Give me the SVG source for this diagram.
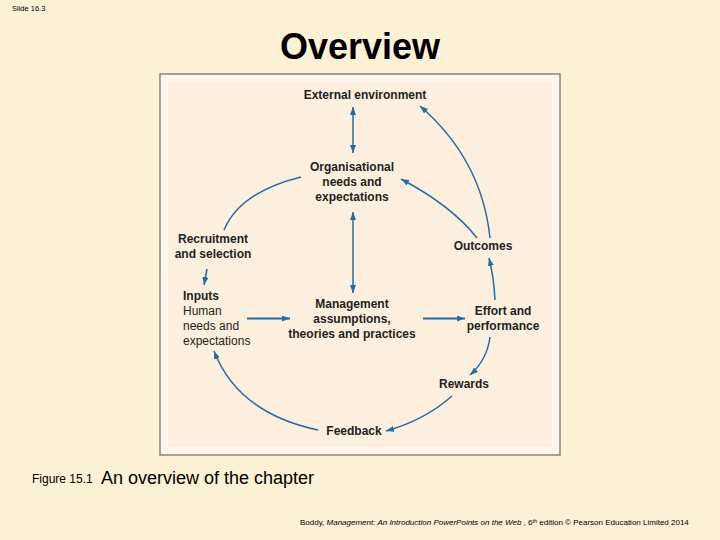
<svg xmlns="http://www.w3.org/2000/svg" width="720" height="540" viewBox="0 0 720 540">
<style>
.lbl{font-family:"Liberation Sans",Arial,sans-serif;font-size:12px;font-weight:bold;fill:#231f20;text-anchor:middle}
.lblL{font-family:"Liberation Sans",Arial,sans-serif;font-size:12px;fill:#231f20}
.con{fill:none;stroke:#1f6fa6;stroke-width:1.5}
.thick{stroke-width:2}
.sm{font-family:"Liberation Sans",Arial,sans-serif;font-size:7.5px;fill:#000}
</style>
<defs>
<marker id="ah" markerUnits="userSpaceOnUse" markerWidth="9" markerHeight="7" refX="8" refY="3" orient="auto-start-reverse">
<path d="M0,0 L8,3 L0,6 z" fill="#1f6fa6"/>
</marker>
</defs>
<rect x="0" y="0" width="720" height="540" fill="#fbf1d5"/>
<text class="sm" x="12" y="11">Slide 16.3</text>
<text x="360" y="59" font-family="Liberation Sans,Arial,sans-serif" font-size="36" font-weight="bold" text-anchor="middle" fill="#000">Overview</text>
<rect x="160" y="74" width="400" height="381" fill="#fef6ea" stroke="#85857d" stroke-width="1.5"/>
<rect x="168" y="82" width="384" height="365" fill="#fcefdd"/>
<g id="connectors">
<path class="con" d="M353 107 L353 153" marker-start="url(#ah)" marker-end="url(#ah)"/>
<path class="con" d="M353 212 L353 293" marker-start="url(#ah)" marker-end="url(#ah)"/>
<path class="con" d="M301 177 Q240 192 224 230"/>
<path class="con" d="M207 269 L204 285" marker-end="url(#ah)"/>
<path class="con thick" d="M247 318.5 L290 318.5" marker-end="url(#ah)"/>
<path class="con thick" d="M423 318.5 L465 318.5" marker-end="url(#ah)"/>
<path class="con" d="M495 300 Q494 278 489 258" marker-end="url(#ah)"/>
<path class="con" d="M477 238 Q452 206 401 179" marker-end="url(#ah)"/>
<path class="con" d="M490 238 C485 190 465 145 420 106" marker-end="url(#ah)"/>
<path class="con" d="M490 337 Q487 360 470 375" marker-end="url(#ah)"/>
<path class="con" d="M452 396 Q425 420 386 431" marker-end="url(#ah)"/>
<path class="con" d="M318 430 Q238 413 214 351" marker-end="url(#ah)"/>
</g>
<g id="external"><text class="lbl" x="365" y="99">External environment</text></g>
<g id="org"><text class="lbl" x="352" y="171">Organisational</text><text class="lbl" x="352" y="186">needs and</text><text class="lbl" x="352" y="201">expectations</text></g>
<g id="recruitment"><text class="lbl" x="213" y="243">Recruitment</text><text class="lbl" x="213" y="258">and selection</text></g>
<g id="inputs"><text class="lblL" x="183" y="300" font-weight="bold">Inputs</text><text class="lblL" x="183" y="315">Human</text><text class="lblL" x="183" y="330">needs and</text><text class="lblL" x="183" y="345">expectations</text></g>
<g id="management"><text class="lbl" x="352" y="308">Management</text><text class="lbl" x="352" y="323">assumptions,</text><text class="lbl" x="352" y="338">theories and practices</text></g>
<g id="effort"><text class="lbl" x="503" y="315">Effort and</text><text class="lbl" x="503" y="330">performance</text></g>
<g id="outcomes"><text class="lbl" x="483" y="250">Outcomes</text></g>
<g id="rewards"><text class="lbl" x="464" y="388">Rewards</text></g>
<g id="feedback"><text class="lbl" x="354" y="435">Feedback</text></g>
<text x="32" y="483" font-family="Liberation Sans,Arial,sans-serif" font-size="12" fill="#000">Figure 15.1</text>
<text x="101" y="484" font-family="Liberation Sans,Arial,sans-serif" font-size="18" fill="#000">An overview of the chapter</text>
<text x="300" y="525" font-family="Liberation Sans,Arial,sans-serif" font-size="8" fill="#000">Boddy, <tspan font-style="italic">Management: An Introduction PowerPoints on the Web</tspan> , 6<tspan font-size="5.5" dy="-2.5">th</tspan><tspan dy="2.5"> edition © Pearson Education Limited 2014</tspan></text>
</svg>
